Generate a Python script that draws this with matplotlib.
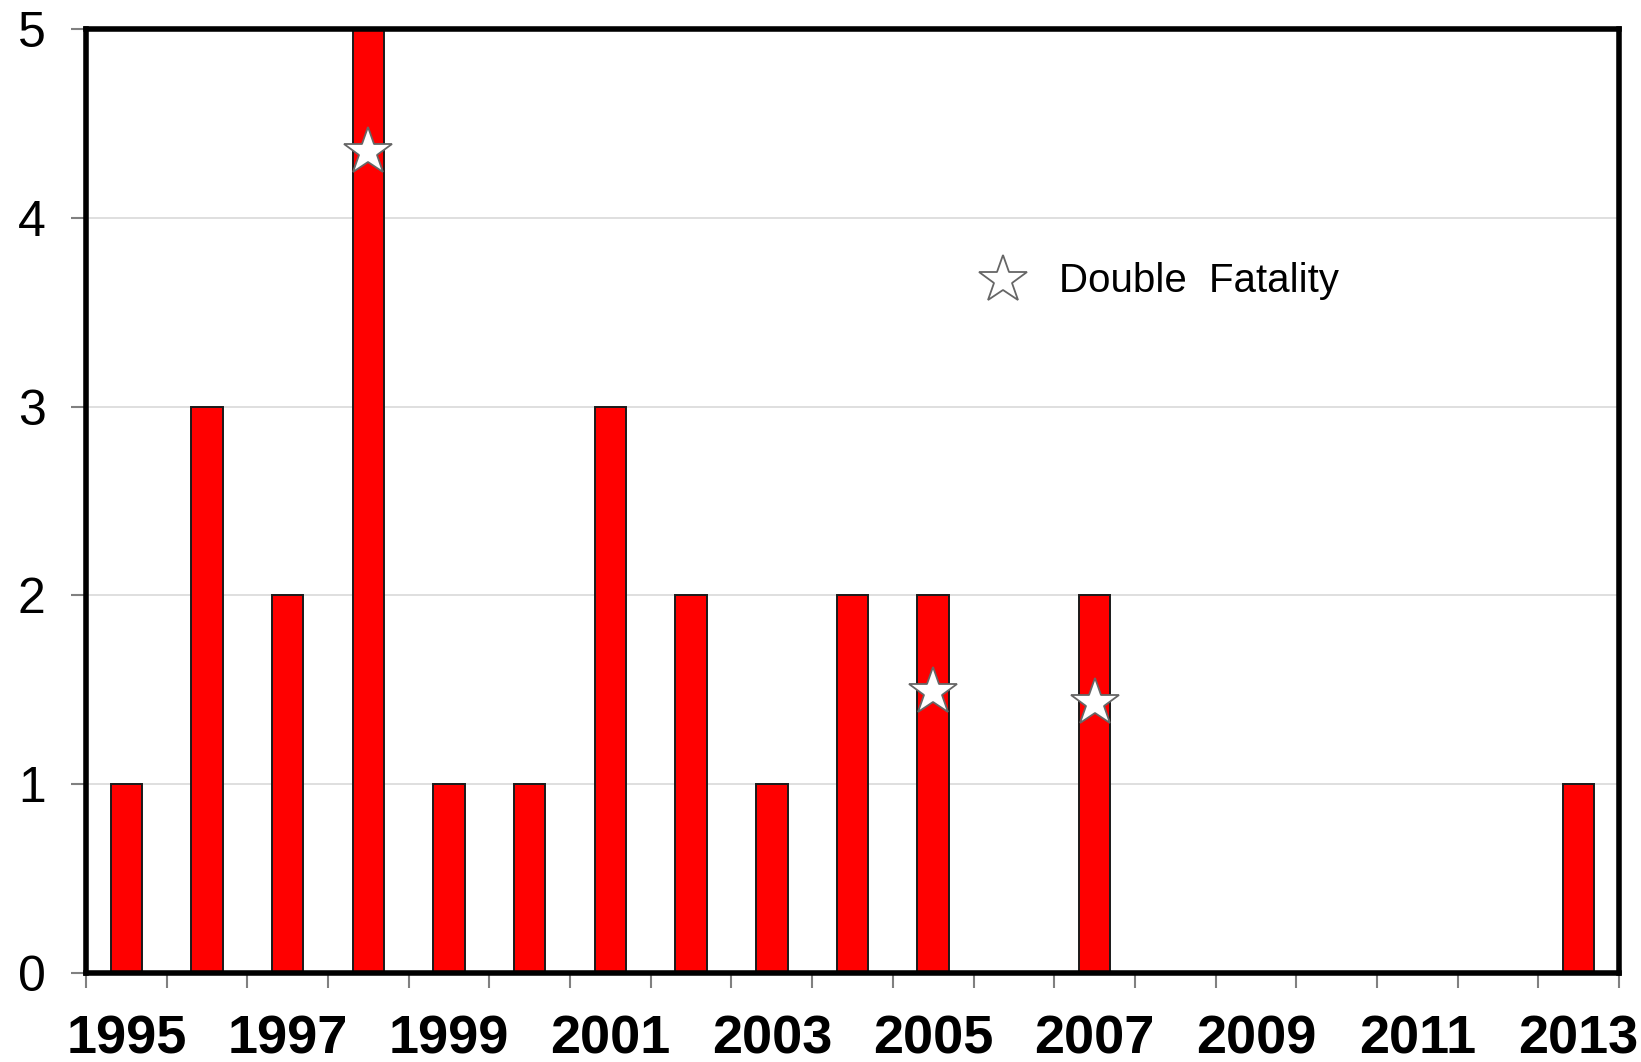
import matplotlib
matplotlib.use("Agg")
import matplotlib.pyplot as plt
import numpy as np

years = list(range(1995, 2014))
counts = [1, 3, 2, 5, 1, 1, 3, 2, 1, 2, 2, 0, 2, 0, 0, 0, 0, 0, 1]
double_years = [1998, 2005, 2007]
double_y = [4.35, 1.49, 1.43]
label_years = [1995, 1997, 1999, 2001, 2003, 2005, 2007, 2009, 2011, 2013]

plt.rcParams['font.family'] = ['Liberation Sans', 'DejaVu Sans']

fig = plt.figure(figsize=(16.41, 10.62), dpi=100)
ax = fig.add_axes([0.0524, 0.084, 0.9342, 0.8885])

x = np.arange(len(years))
ax.bar(x, counts, width=0.39, color='#FF0000', edgecolor='#1a1a1a', linewidth=1.4, zorder=3)

sx = [years.index(y) for y in double_years]
ax.plot(sx, double_y, linestyle='none', marker='*', markersize=36,
        markerfacecolor='white', markeredgecolor='#666666', markeredgewidth=1.3, zorder=4)

ax.set_xlim(-0.5, len(years) - 0.5)
ax.set_ylim(0, 5)
ax.set_yticks([0, 1, 2, 3, 4, 5])
ax.yaxis.grid(True, color='#D9D9D9', linewidth=1.2, zorder=0)
ax.tick_params(axis='y', length=11, width=1.5, color='#808080', pad=18, labelsize=36)

ax.set_xticks(np.arange(len(years) + 1) - 0.5)
ax.set_xticklabels([])
ax.tick_params(axis='x', which='major', direction='out', length=11, width=1.5, color='#808080')
ax.set_xticks([years.index(y) for y in label_years], minor=True)
ax.set_xticklabels([str(y) for y in label_years], minor=True, fontweight='bold', fontsize=39)
ax.tick_params(axis='x', which='minor', length=0, pad=30)

for s in ax.spines.values():
    s.set_linewidth(4)
    s.set_color('black')
    s.set_zorder(5)

# legend-like annotation
ax.plot([10.86], [3.67], linestyle='none', marker='*', markersize=36,
        markerfacecolor='white', markeredgecolor='#666666', markeredgewidth=1.3,
        clip_on=False)
ax.text(11.56, 3.665, 'Double  Fatality', fontsize=29, va='center', ha='left')

fig.savefig('out.png', dpi=100)
